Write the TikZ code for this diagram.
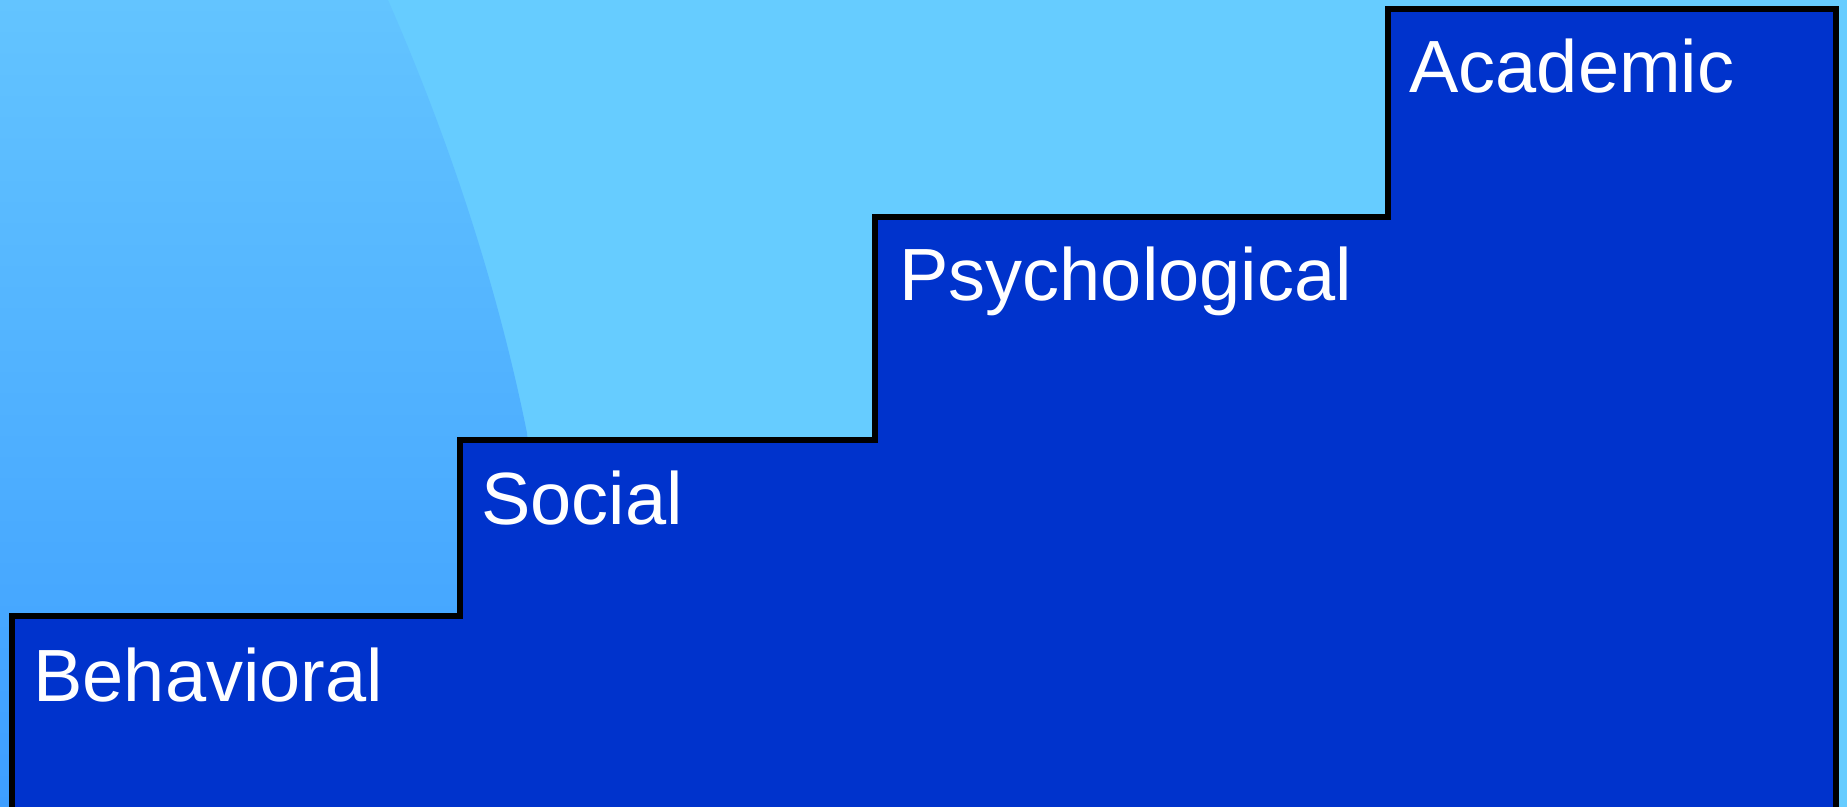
\documentclass[tikz,border=0pt]{standalone}
\usepackage{fontspec}
\setmainfont{Liberation Sans}
\definecolor{skylight}{RGB}{102,204,255}
\definecolor{gradtop}{RGB}{99,196,255}
\definecolor{gradbot}{RGB}{61,158,255}
\definecolor{stepblue}{RGB}{0,51,204}
\tikzset{
  steplabel/.style={anchor=base west, inner sep=0pt, text=white,
    font=\fontsize{37pt}{44pt}\selectfont},
  stairs/.style={fill=stepblue, draw=black, line width=3pt, line join=miter}
}
\begin{document}
\begin{tikzpicture}[x=0.5pt, y=-0.5pt]
  \useasboundingbox (0,0) rectangle (1847,807);
  % flat background
  \fill[skylight] (0,0) rectangle (1847,807);
  % shaded band on the left with a curved edge
  \shade[top color=gradtop, bottom color=gradbot]
    (0,0) -- (388,0) .. controls (451,144) and (498,289) .. (527,433)
    -- (560,807) -- (0,807) -- cycle;
  % the staircase
  \draw[stairs] (12,810) -- (12,616) -- (460,616) -- (460,440) -- (875,440)
    -- (875,217) -- (1388,217) -- (1388,9) -- (1836,9) -- (1836,810) -- cycle;
  % step labels
  \node[steplabel] (behavioral) at (33,701) {Behavioral};
  \node[steplabel] (social) at (481,524) {Social};
  \node[steplabel] (psychological) at (899,301) {Psychological};
  \node[steplabel] (academic) at (1409,93) {Academic};
\end{tikzpicture}
\end{document}
